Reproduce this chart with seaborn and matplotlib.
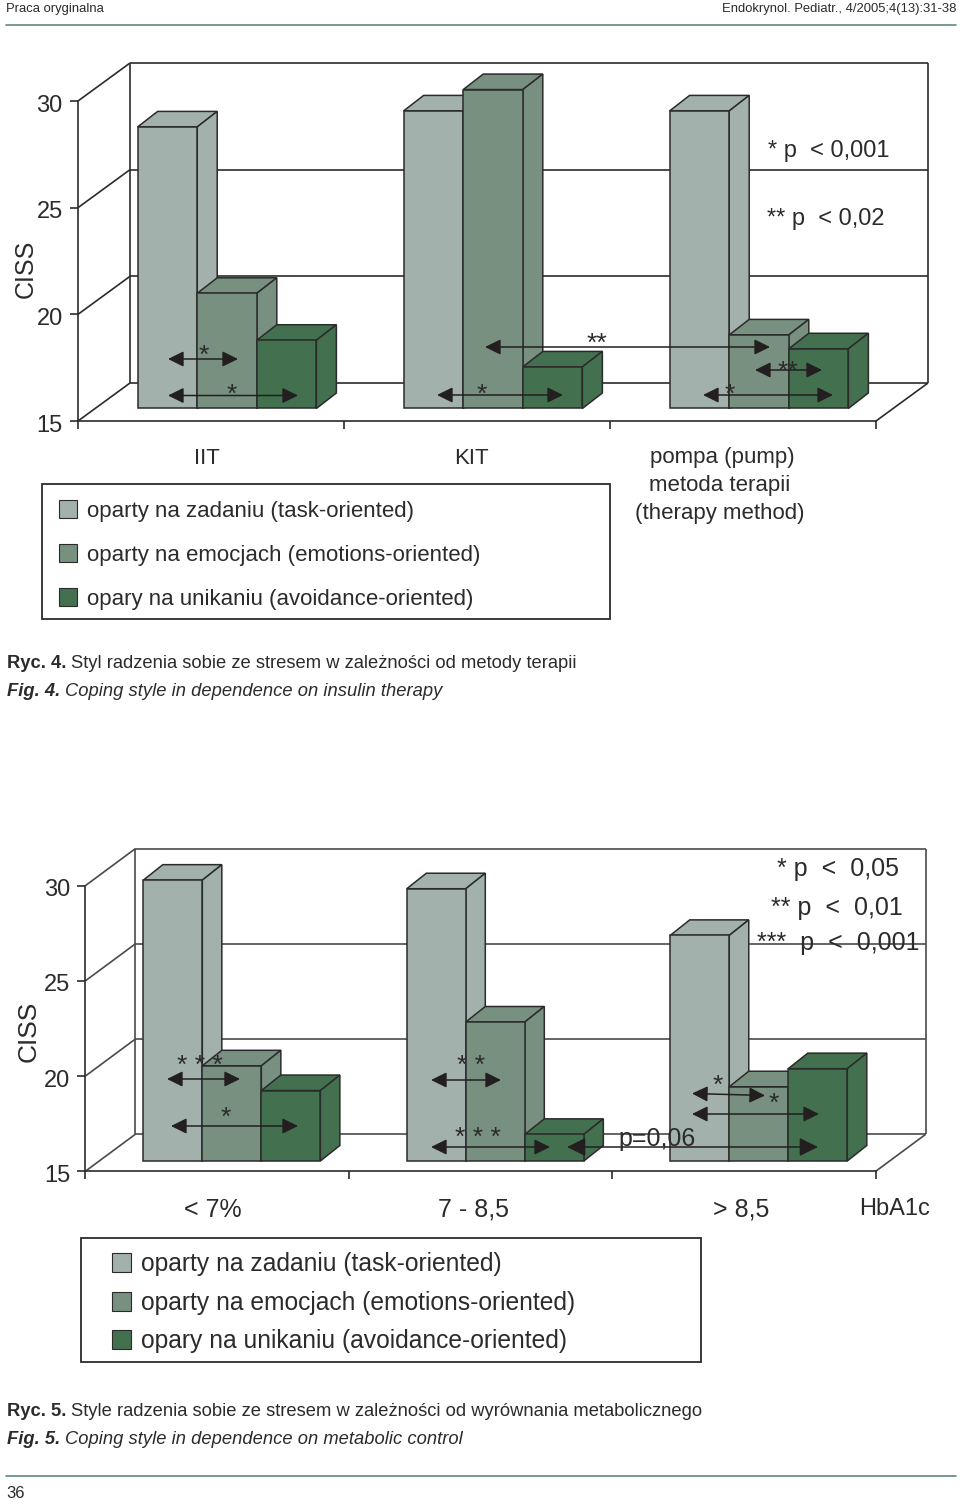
# Coping style charts (Ryc. 4 and Ryc. 5), fake 3D bars on seaborn bar plots
import pandas as pd
import matplotlib
matplotlib.use('Agg')
import matplotlib.pyplot as plt
from matplotlib.patches import Polygon, Rectangle
from matplotlib.transforms import ScaledTranslation
import seaborn as sns

# Chart data
styles = ['oparty na zadaniu (task-oriented)',
          'oparty na emocjach (emotions-oriented)',
          'opary na unikaniu (avoidance-oriented)']
therapy_groups = ['IIT', 'KIT', 'pompa (pump)']
therapy_task = [28.2, 28.95, 28.95]
therapy_emotion = [20.4, 29.95, 18.45]
therapy_avoid = [18.2, 16.95, 17.8]

hba1c_groups = ['< 7%', '7 - 8,5', '> 8,5']
hba1c_task = [29.75, 29.3, 26.85]
hba1c_emotion = [20.0, 22.3, 18.9]
hba1c_avoid = [18.7, 16.4, 19.85]

y_ticks = [15, 20, 25, 30]
colors = ['#A2B1AB', '#78907F', '#43704F']

W, H = 960, 1505
INK = '#2b2b2b'

sns.set_theme(style='white')
plt.rcParams['font.family'] = ['Liberation Sans', 'DejaVu Sans']

fig = plt.figure(figsize=(W / 100, H / 100), dpi=100, facecolor='white')


def px_axes(left, top, right, bottom, zorder):
    ax = fig.add_axes([left / W, 1 - bottom / H, (right - left) / W, (bottom - top) / H],
                      zorder=zorder)
    ax.patch.set_alpha(0)
    return ax


def chart(box, groups, task, emotion, avoid, wall, offset, depth, zorder, wall_color):
    left, top, right, bottom = box
    # front plane of the chart, holds the y axis
    ax = px_axes(left, top, right, bottom, zorder)
    ax.set_xlim(0, 3)
    ax.set_ylim(15, 30)
    sx = (right - left) / 3
    sy = (bottom - top) / 15
    wx, wy = wall[0] / sx, wall[1] / sy
    line = dict(color=wall_color, lw=1.2, clip_on=False, solid_capstyle='butt')
    for y in y_ticks:
        ax.plot([0, wx], [y, y + wy], **line)
        ax.plot([wx, 3 + wx], [y + wy, y + wy], **line)
    ax.plot([wx, wx], [15 + wy, 30 + wy], **line)
    ax.plot([3 + wx, 3 + wx], [15 + wy, 30 + wy], **line)
    ax.plot([3, 3 + wx], [15, 15 + wy], **line)
    sns.despine(ax=ax)
    for s in ['left', 'bottom']:
        ax.spines[s].set_color(INK)
        ax.spines[s].set_linewidth(1.2)
    ax.set_xticks([0, 1, 2, 3])
    ax.set_xticklabels([])
    ax.set_yticks(y_ticks)
    ax.set_yticklabels([str(y) for y in y_ticks], fontsize=17, color=INK)
    ax.tick_params(axis='both', length=6, width=1.2, color=INK, left=True, bottom=True, pad=5)
    # tick numbers sit 2 px lower than their ticks
    for lab in ax.get_yticklabels():
        lab.set_transform(lab.get_transform() + ScaledTranslation(0, -2 / 100, fig.dpi_scale_trans))

    # bars sit a bit behind the front plane
    df = pd.DataFrame({
        'group': groups * 3,
        'style': [styles[0]] * 3 + [styles[1]] * 3 + [styles[2]] * 3,
        'value': task + emotion + avoid,
    })
    bx = px_axes(left + offset[0], top - offset[1], right + offset[0], bottom - offset[1], zorder + 1)
    sns.barplot(data=df, x='group', y='value', hue='style', palette=colors, saturation=1,
                width=0.672, gap=0, legend=False, edgecolor=INK, linewidth=1.1, ax=bx)
    bx.set_xlim(-0.5, 2.5)
    bx.set_ylim(15, 30)
    bx.axis('off')

    dx, dy = depth[0] / sx, depth[1] / sy
    bars = []
    for container, col in zip(bx.containers, colors):
        for bar in container:
            bars.append((bar, col))
    bars.sort(key=lambda b: b[0].get_x())
    for i, (bar, col) in enumerate(bars):
        x0, x1 = bar.get_x(), bar.get_x() + bar.get_width()
        ytop = bar.get_height()
        # start the rectangle at the axis floor so its lower edge shows
        bar.set_y(15)
        bar.set_height(ytop - 15)
        bar.set_clip_on(False)
        bar.set_zorder(10 + 2 * i + 1)
        top_face = Polygon([(x0, ytop), (x1, ytop), (x1 + dx, ytop + dy), (x0 + dx, ytop + dy)])
        side_face = Polygon([(x1, 15), (x1, ytop), (x1 + dx, ytop + dy), (x1 + dx, 15 + dy)])
        for face in [top_face, side_face]:
            face.set(facecolor=col, edgecolor=INK, linewidth=1.1, clip_on=False, zorder=10 + 2 * i)
            bx.add_patch(face)


therapy_box = (78, 101, 876, 421)
hba1c_box = (85.3, 885.7, 875.7, 1171.3)
chart(therapy_box, therapy_groups, therapy_task, therapy_emotion, therapy_avoid,
      (52, 38), (16, 12.5), (20, 15.5), 1, INK)
chart(hba1c_box, hba1c_groups, hba1c_task, hba1c_emotion, hba1c_avoid,
      (50, 37), (14.8, 10.3), (19.5, 15.5), 3, '#4a4a4a')

# overlay in picture pixels for texts, arrows, legend boxes
ov = fig.add_axes([0, 0, 1, 1], zorder=10)
ov.set_xlim(0, W)
ov.set_ylim(H, 0)
ov.axis('off')


def label(x, y, s, size=16, ha='center', **kw):
    kw.setdefault('color', INK)
    ov.text(x, y + 2, s, fontsize=size, ha=ha, va='center', **kw)


def star(x, y, s='*', size=19):
    # asterisks sit high in the line, place them by their baseline
    ov.text(x, y + 0.58 * size, s, fontsize=size, ha='center', va='baseline', color=INK)


def arrow(x0, y0, x1, y1, scale=10):
    ov.annotate('', xy=(x1, y1), xytext=(x0, y0),
                arrowprops=dict(arrowstyle='<|-|>,head_length=0.95,head_width=0.47',
                                mutation_scale=scale, color='#231f20', lw=1.1,
                                shrinkA=0, shrinkB=0))


def legend(box, ys, text_x, swatch_x, size, swatch):
    l, t, r, b = box
    ov.add_patch(Rectangle((l, t), r - l, b - t, fc='white', ec=INK, lw=1.3))
    for y, name, col in zip(ys, styles, colors):
        ov.add_patch(Rectangle((swatch_x, y - swatch / 2), swatch, swatch, fc=col, ec=INK, lw=0.8))
        label(text_x, y, name, size=size, ha='left')


# page header and footer
label(6, 7, 'Praca oryginalna', size=9.4, ha='left')
label(956, 7, 'Endokrynol. Pediatr., 4/2005;4(13):31-38', size=9.4, ha='right')
ov.plot([6, 956], [25, 25], color='#5f8b78', lw=1.2)
ov.plot([6, 956], [1476, 1476], color='#5f8b78', lw=1.2)
label(16, 1492, '36', size=12)

# Ryc. 4
label(26, 267, 'CISS', size=18, rotation=90)
label(207, 457, therapy_groups[0], size=16)
label(471, 457, therapy_groups[1], size=16)
label(722, 456, therapy_groups[2], size=16)
label(720, 484, 'metoda terapii', size=16)
label(720, 512, '(therapy method)', size=16)
label(829, 149, '* p  < 0,001', size=17)
label(826, 217, '** p  < 0,02', size=17)
arrow(168, 359, 238, 359)
arrow(168, 395.5, 298, 395.5)
arrow(437, 395, 563, 395)
arrow(485, 347, 770, 347)
arrow(703, 395, 833, 395)
arrow(755, 370, 822, 370)
star(204, 352)
star(232, 391)
star(482, 391)
star(597, 340, '**')
star(730, 391)
star(788, 368, '**')
legend((42, 484, 610, 619), [509, 553, 597], 87, 59, 16, 18)
label(7, 662, 'Ryc. 4.', size=13.2, ha='left', weight='bold')
label(71, 662, 'Styl radzenia sobie ze stresem w zależności od metody terapii', size=13.2, ha='left')
label(7, 689, 'Fig. 4.', size=13.2, ha='left', weight='bold', style='italic')
label(65, 689, 'Coping style in dependence on insulin therapy', size=13.2, ha='left', style='italic')

# Ryc. 5
label(29, 1029, 'CISS', size=19, rotation=90)
label(213, 1208, hba1c_groups[0], size=18)
label(473, 1208, hba1c_groups[1], size=18)
label(741, 1208, hba1c_groups[2], size=18)
label(895, 1207, 'HbA1c', size=17)
label(838, 867, '* p  <  0,05', size=18)
label(837, 906, '** p  <  0,01', size=18)
label(838, 941, '***  p  <  0,001', size=18)
arrow(167, 1079, 240, 1079)
arrow(171, 1126, 298, 1126)
arrow(431, 1080, 501, 1080)
arrow(431, 1147, 550, 1147)
arrow(567, 1147, 818, 1147, scale=12)
arrow(692, 1093.5, 765, 1095.5)
arrow(692, 1114, 819, 1114)
star(200, 1062, '* * *')
star(226, 1114)
star(471, 1062, '* *')
star(478, 1134, '* * *')
star(718, 1082)
star(774, 1100)
label(657, 1137, 'p=0,06', size=18)
legend((81, 1238, 701, 1362), [1262, 1301, 1339], 141, 112, 17.7, 19)
label(7, 1410, 'Ryc. 5.', size=13.2, ha='left', weight='bold')
label(71, 1410, 'Style radzenia sobie ze stresem w zależności od wyrównania metabolicznego', size=13.2, ha='left')
label(7, 1437, 'Fig. 5.', size=13.2, ha='left', weight='bold', style='italic')
label(65, 1437, 'Coping style in dependence on metabolic control', size=13.2, ha='left', style='italic')

fig.savefig('out.png', dpi=100)
